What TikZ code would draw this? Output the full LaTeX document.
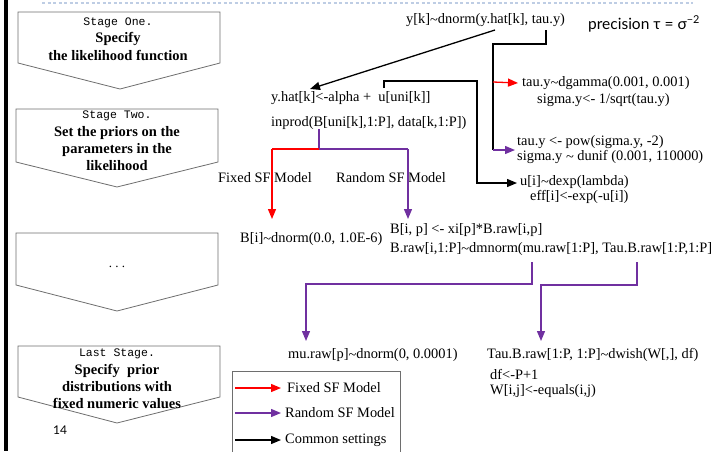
\documentclass[tikz,border=0pt]{standalone}
\usepackage{fontspec}
\setmainfont{Liberation Serif}
\newfontfamily\monofont{Liberation Mono}
\newfontfamily\gillfont{Lato}
\usetikzlibrary{arrows.meta}
\definecolor{myred}{RGB}{255,0,0}
\definecolor{mypurple}{RGB}{112,48,160}
\definecolor{boxgray}{RGB}{110,110,110}
\definecolor{dashblue}{RGB}{190,205,228}
\newcommand\tld{\raisebox{-0.07em}{\symbol{"7E}}}
\tikzset{
  txt/.style={anchor=west,inner sep=0pt,font=\fontsize{14.4}{16}\selectfont},
  stagebox/.style={draw=boxgray,line width=0.8pt,fill=white},
  stagetxt/.style={align=center,inner sep=0pt,font=\fontsize{14.5}{17.3}\selectfont\bfseries},
  conn/.style={line width=1.3pt,-{Triangle[length=10pt,width=8pt]}},
  seg/.style={line width=1.3pt},
  blk/.style={black},
  red/.style={myred},
  pur/.style={mypurple}
}
\begin{document}
\begin{tikzpicture}[x=1pt,y=-1pt]
\useasboundingbox (0,0) rectangle (714,451);
% page decoration
\draw[dashblue,dashed,line width=1.2pt,dash pattern=on 3pt off 2.5pt] (42,3) -- (693,3);
\draw[black,line width=3.5pt] (6,0) -- (6,451);
% stage boxes
\draw[stagebox] (18,12) -- (220,12) -- (220,63) -- (120,89) -- (18,63) -- cycle;
\node[stagetxt] (s1) at (118,39) {{\mdseries\monofont\fontsize{11.5}{17.3}\selectfont Stage One.}\\Specify\\the likelihood function};
\draw[stagebox] (16,109) -- (218,109) -- (218,162) -- (117,187) -- (16,162) -- cycle;
\node[stagetxt] (s2) at (117,141) {{\mdseries\monofont\fontsize{11.5}{17.3}\selectfont Stage Two.}\\Set the priors on the\\parameters in the\\likelihood};
\draw[stagebox] (16,233) -- (218,233) -- (218,285) -- (117,311) -- (16,285) -- cycle;
\node[stagetxt,font=\fontsize{13}{15}\selectfont] (s3) at (117,267) {.\ .\ .};
\draw[stagebox] (18,346) -- (220,346) -- (220,397) -- (117,423) -- (18,397) -- cycle;
\node[stagetxt] (s4) at (117,379) {{\mdseries\monofont\fontsize{11.5}{17.3}\selectfont Last Stage.}\\Specify\ \ prior\\distributions with\\fixed numeric values};
\node[inner sep=0pt,anchor=west,font=\gillfont\fontsize{12}{14}\selectfont] (pg) at (53,430) {14};
% texts
\node[txt] (yk) at (406,20) {y[k]\tld dnorm(y.hat[k], tau.y)};
\node[inner sep=0pt,anchor=west,font=\gillfont\fontsize{15.5}{18}\selectfont] (prec) at (588,24) {precision τ = σ\textsuperscript{−2}};
\node[txt] (yhat) at (271,98) {y.hat[k]<-alpha +\ \ u[uni[k]]};
\node[txt] (inprod) at (271,123) {inprod(B[uni[k],1:P], data[k,1:P])};
\node[txt] (tg) at (522,83) {tau.y\tld dgamma(0.001, 0.001)};
\node[txt] (sg) at (537,100) {sigma.y<- 1/sqrt(tau.y)};
\node[txt] (tp) at (517,142) {tau.y <- pow(sigma.y, -2)};
\node[txt] (su) at (517,157) {sigma.y \tld\ dunif (0.001, 110000)};
\node[txt] (ud) at (520,182) {u[i]\tld dexp(lambda)};
\node[txt] (eff) at (530,197) {eff[i]<-exp(-u[i])};
\node[txt] (fixl) at (218,178) {Fixed SF Model};
\node[txt] (ranl) at (336,178) {Random SF Model};
\node[txt] (bi) at (240,239) {B[i]\tld dnorm(0.0, 1.0E-6)};
\node[txt] (bip) at (390,230) {B[i, p] <- xi[p]*B.raw[i,p]};
\node[txt] (braw) at (390,249) {B.raw[i,1:P]\tld dmnorm(mu.raw[1:P], Tau.B.raw[1:P,1:P]};
\node[txt] (mu) at (288,355) {mu.raw[p]\tld dnorm(0, 0.0001)};
\node[txt] (tau) at (487,355) {Tau.B.raw[1:P, 1:P]\tld dwish(W[,], df)};
\node[txt] (df) at (490,374) {df<-P+1};
\node[txt] (W) at (490,391) {W[i,j]<-equals(i,j)};
% coordinates for connectors
\coordinate (c1) at (495,30);
\coordinate (c2) at (310,89);
\coordinate (t0) at (546,30);
\coordinate (t1) at (546,44);
\coordinate (t2) at (493,44);
\coordinate (t3) at (493,82);
\coordinate (t4) at (493,150);
\coordinate (u0) at (384,88);
\coordinate (u1) at (384,81);
\coordinate (u2) at (477,81);
\coordinate (u3) at (477,183);
\coordinate (b0) at (319,129);
\coordinate (b1) at (319,149);
\coordinate (b2) at (272,149);
\coordinate (b3) at (408,149);
\coordinate (m0) at (532,262);
\coordinate (m1) at (532,284);
\coordinate (m2) at (306,284);
\coordinate (n0) at (637,262);
\coordinate (n1) at (637,285);
\coordinate (n2) at (541,285);
% connectors
\draw[conn,blk] (c1) -- (c2);
\draw[seg,blk] (t0) -- (t1) -- (t2) -- (t4);
\draw[conn,red] (t3) -- ([xshift=-4pt]tg.west);
\draw[conn,pur] (t4) -- ([xshift=-2pt]tp.west |- t4);
\draw[conn,blk] (u0) -- (u1) -- (u2) -- (u3) -- ([xshift=-3pt]ud.west |- u3);
\draw[seg,pur] (b0) -- (b1) -- (b3);
\draw[seg,red] (b1) -- (b2);
\draw[conn,red] (b2) -- (272,219);
\draw[conn,pur] (b3) -- (408,219);
\draw[conn,pur] (m0) -- (m1) -- (m2) -- (306,341);
\draw[conn,pur] (n0) -- (n1) -- (n2) -- (541,341);
% legend
\draw[boxgray,line width=0.8pt] (232,460) -- (232,371) -- (400,371) -- (400,460);
\coordinate (l1) at (235,388);
\coordinate (l2) at (235,413);
\coordinate (l3) at (235,440);
\node[txt] (lt1) at (287,388) {Fixed SF Model};
\node[txt] (lt2) at (285,413) {Random SF Model};
\node[txt] (lt3) at (285,440) {Common settings};
\draw[conn,red] (l1) -- ([xshift=-6pt]lt1.west);
\draw[conn,pur] (l2) -- ([xshift=-4pt]lt2.west);
\draw[conn,blk] (l3) -- ([xshift=-4pt]lt3.west);
\end{tikzpicture}
\end{document}
